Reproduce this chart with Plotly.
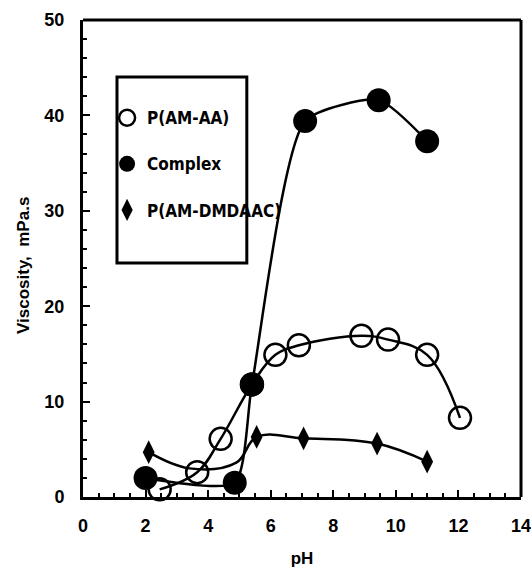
import plotly.graph_objects as go

# ---- data ----
ph_aa = [2.45, 3.65, 4.4, 5.4, 6.15, 6.9, 8.9, 9.75, 11.0, 12.05]
visc_aa = [0.8, 2.6, 6.1, 11.8, 14.9, 15.9, 16.9, 16.5, 14.9, 8.3]

ph_cx = [2.0, 4.85, 5.4, 7.1, 9.45, 11.0]
visc_cx = [2.0, 1.5, 11.8, 39.4, 41.6, 37.3]

ph_dm = [2.1, 3.4, 4.9, 5.55, 7.05, 9.4, 11.0]
visc_dm = [4.7, 3.0, 3.6, 6.3, 6.15, 5.6, 3.7]
dm_visible = [True, False, False, True, True, True, True]

names = ["P(AM-AA)", "Complex", "P(AM-DMDAAC)"]
x_ticks = [0, 2, 4, 6, 8, 10, 12, 14]
y_ticks = [0, 10, 20, 30, 40, 50]

fig = go.Figure()
LW = 2.5

# lines
for xs, ys, sm in [(ph_aa, visc_aa, 1.1), (ph_cx, visc_cx, 0.6), (ph_dm, visc_dm, 1.1)]:
    fig.add_trace(go.Scatter(x=xs, y=ys, mode="lines", showlegend=False,
                             line=dict(color="black", width=LW, shape="spline", smoothing=sm),
                             hoverinfo="skip", cliponaxis=False))

# markers
fig.add_trace(go.Scatter(x=ph_aa, y=visc_aa, mode="markers", name=names[0], legendgroup="a",
                         marker=dict(symbol="circle-open", size=22, color="black",
                                     line=dict(width=2.5, color="black")), cliponaxis=False))
fig.add_trace(go.Scatter(x=ph_cx, y=visc_cx, mode="markers", name=names[1], legendgroup="b",
                         marker=dict(symbol="circle", size=24, color="black"), cliponaxis=False))
fig.add_trace(go.Scatter(x=[x for x, v in zip(ph_dm, dm_visible) if v],
                         y=[y for y, v in zip(visc_dm, dm_visible) if v],
                         mode="markers", name=names[2], legendgroup="c",
                         marker=dict(symbol="diamond-tall", size=17, color="black"), cliponaxis=False))

tickfont = dict(family="Liberation Sans, Arial, sans-serif", size=18, color="black", weight="bold")
titlefont = dict(family="Liberation Sans, Arial, sans-serif", size=17, color="black", weight="bold")

fig.update_layout(
    width=531, height=574,
    margin=dict(l=83, r=10, t=20, b=77),
    plot_bgcolor="white", paper_bgcolor="white",
    showlegend=True,
    legend=dict(x=0.055, y=0.832, xanchor="left", yanchor="top",
                bgcolor="rgba(0,0,0,0)", borderwidth=0,
                tracegroupgap=21, itemwidth=30,
                font=dict(family="DejaVu Sans Condensed, DejaVu Sans, sans-serif",
                          size=17, color="black", weight="bold")),
    xaxis=dict(range=[0, 14], tickvals=x_ticks, ticktext=[str(t) for t in x_ticks],
               automargin=False,
               showgrid=False, zeroline=False, showline=True, linecolor="black", linewidth=3,
               mirror=False, ticks="inside", ticklen=7, tickwidth=2, tickcolor="black",
               minor=dict(dtick=0.5, ticks="inside", ticklen=4, tickwidth=1.5, tickcolor="black"),
               tickfont=tickfont, ticklabelstandoff=10, ticklabeloverflow="allow",
               title=dict(text="pH", font=titlefont, standoff=18)),
    yaxis=dict(range=[0, 50], tickvals=y_ticks, ticktext=[str(t) for t in y_ticks],
               automargin=False,
               showgrid=False, zeroline=False, showline=True, linecolor="black", linewidth=3,
               mirror=False, ticks="inside", ticklen=7, tickwidth=2, tickcolor="black",
               minor=dict(dtick=2, ticks="inside", ticklen=4, tickwidth=1.5, tickcolor="black"),
               tickfont=tickfont, ticklabelstandoff=12, ticklabeloverflow="allow"),
    annotations=[
        dict(text="Viscosity,  mPa.s", textangle=-90, xref="paper", yref="paper",
             x=(23 - 83) / 438, y=(497 - 266) / 477, xanchor="center", yanchor="middle",
             showarrow=False, font=titlefont),
    ],
    shapes=[
        # top and right frame lines (no ticks)
        dict(type="line", xref="paper", yref="paper", x0=0, x1=1, y0=1, y1=1,
             line=dict(color="black", width=3)),
        dict(type="line", xref="paper", yref="paper", x0=1, x1=1, y0=0, y1=1,
             line=dict(color="black", width=3)),
        # legend box
        dict(type="rect", xref="paper", yref="paper", x0=0.0776, x1=0.374, y0=0.4906, y1=0.8805,
             line=dict(color="black", width=3), fillcolor="rgba(0,0,0,0)", layer="below"),
    ],
)

fig.write_html("out.html")
